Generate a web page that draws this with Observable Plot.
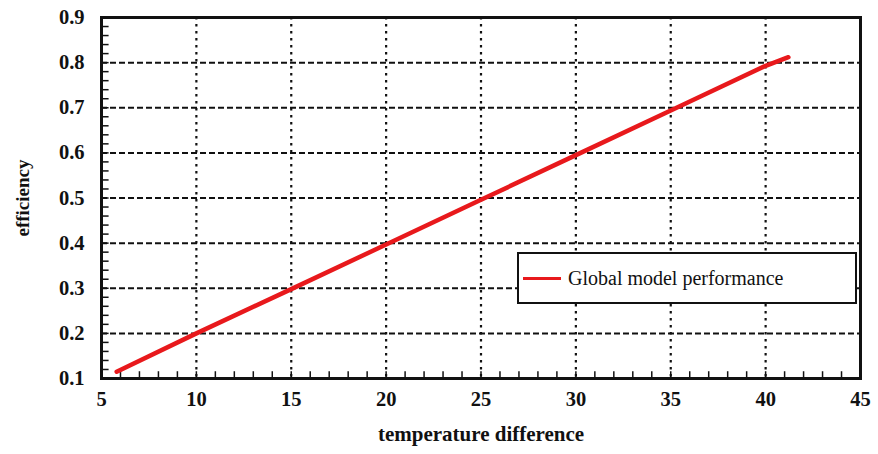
<!DOCTYPE html>
<html>
<head>
<meta charset="utf-8">
<script src="https://cdn.jsdelivr.net/npm/d3@7"></script>
<script src="https://cdn.jsdelivr.net/npm/@observablehq/plot@0.6"></script>
<style>
  html, body { margin: 0; padding: 0; background: #fff; }
  #wrap { position: relative; width: 878px; height: 454px; }
  #legend {
    position: absolute; left: 517px; top: 252px; width: 336px; height: 48px;
    border: 2px solid #111; background: #fff;
    font-family: "Liberation Serif", "DejaVu Serif", serif; font-size: 20px; color: #111;
    display: flex; align-items: center;
  }
  #legend .sw { width: 38px; height: 3px; background: #e8191c; margin-left: 4px; margin-right: 7px; }
</style>
</head>
<body>
<div id="wrap"></div>
<script>
// temperature difference (x) and efficiency (y)
const tempDiff   = [5.8, 10, 15, 20, 25, 30, 35, 40, 41.2];
const efficiency = [0.115, 0.2, 0.298, 0.397, 0.496, 0.595, 0.694, 0.793, 0.812];
const xTicks = [5, 10, 15, 20, 25, 30, 35, 40, 45];
const yTicks = [0.1, 0.2, 0.3, 0.4, 0.5, 0.6, 0.7, 0.8, 0.9];
const seriesName = "Global model performance";

const data = tempDiff.map((t, i) => ({t, e: efficiency[i]}));
const minorX = d3.range(5, 46, 1);
const minorY = d3.range(0.1, 0.9001, 0.02);

const font = '"Liberation Serif", "DejaVu Serif", serif';

const chart = Plot.plot({
  width: 878,
  height: 454,
  marginLeft: 101,
  marginRight: 18,
  marginTop: 17,
  marginBottom: 76,
  style: {fontFamily: font, fontSize: "20px", fontWeight: "bold", color: "#111", background: "#fff"},
  x: {domain: [5, 45]},
  y: {domain: [0.1, 0.9]},
  marks: [
    Plot.ruleX(xTicks.slice(1, -1), {x: d => d, stroke: "#111", strokeWidth: 2.2, strokeDasharray: "2.5,4.5"}),
    Plot.ruleY(yTicks.slice(1, -1), {y: d => d, stroke: "#111", strokeWidth: 2, strokeDasharray: "6,3"}),
    Plot.ruleX(minorX, {x: d => d, y1: 0.1, y2: 0.1 + 0.015, stroke: "#111", strokeWidth: 1.5}),
    Plot.ruleY(minorY, {y: d => d, x1: 5, x2: 5 + 0.4, stroke: "#111", strokeWidth: 1.5}),
    Plot.line(data, {x: "t", y: "e", stroke: "#e8191c", strokeWidth: 4.5}),
    Plot.frame({stroke: "#111", strokeWidth: 3}),
    Plot.axisX(xTicks, {tickSize: 0, tickPadding: 13, fontWeight: "bold",
      label: "temperature difference", labelAnchor: "center", labelOffset: 62, tickFormat: d => String(d)}),
    Plot.axisY(yTicks, {tickSize: 0, tickPadding: 17, fontWeight: "bold",
      label: "efficiency", labelAnchor: "center", labelOffset: 86, tickFormat: d3.format(".1f")})
  ]
});

chart.querySelectorAll("g[aria-label='x-axis tick label'] text, g[aria-label='y-axis tick label'] text").forEach(t => {
  t.setAttribute("font-size", "20.5");
  t.style.fontSize = "20.5px";
});
chart.querySelectorAll("g[aria-label='x-axis label'] text").forEach(t => {
  t.textContent = t.textContent.replace(/\s*[→↑←↓]\s*/g, "").trim();
  t.style.fontSize = "21px";
});
chart.querySelectorAll("g[aria-label='y-axis label'] text").forEach(t => {
  t.textContent = t.textContent.replace(/\s*[→↑←↓]\s*/g, "").trim();
  t.style.fontSize = "19px";
});

const wrap = document.getElementById("wrap");
wrap.appendChild(chart);
const legend = document.createElement("div");
legend.id = "legend";
legend.innerHTML = `<div class="sw"></div><span></span>`;
legend.querySelector("span").textContent = seriesName;
wrap.appendChild(legend);
</script>
</body>
</html>
